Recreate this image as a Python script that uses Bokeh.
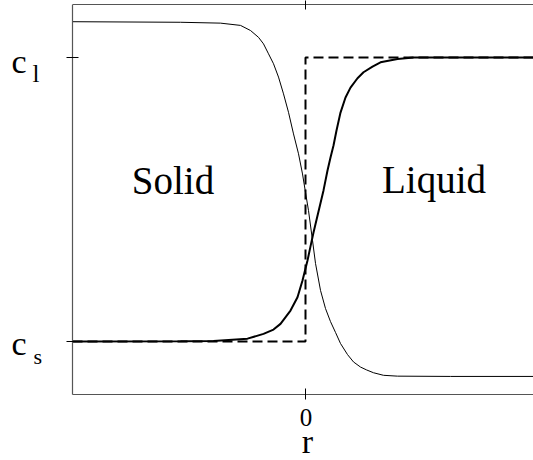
from bokeh.plotting import figure
from bokeh.models import Range1d, LinearAxis, FixedTicker, Label
from bokeh.embed import file_html
from bokeh.resources import INLINE

# ---- data (r in arbitrary units, c normalised: c_s=0, c_l=1)
thin_r = [-4.66, -2.50, -1.70, -1.30, -1.10, -0.94, -0.84, -0.74, -0.64, -0.54,
          -0.44, -0.34, -0.24, -0.14, -0.06, 0.00, 0.06, 0.14, 0.20, 0.30,
          0.40, 0.50, 0.60, 0.70, 0.84, 0.96, 1.10, 1.22, 1.36, 1.56,
          1.84, 2.90, 4.56]
thin_c = [1.126, 1.124, 1.121, 1.113, 1.095, 1.071, 1.048, 1.013, 0.978, 0.931,
          0.872, 0.807, 0.731, 0.661, 0.590, 0.525, 0.461, 0.356, 0.275, 0.180,
          0.116, 0.070, 0.032, -0.007, -0.046, -0.072, -0.090, -0.100, -0.110, -0.119,
          -0.122, -0.123, -0.123]

thick_r = [-4.66, -2.50, -1.84, -1.16, -0.84, -0.64, -0.50, -0.30, -0.16, -0.06,
           0.04, 0.10, 0.16, 0.26, 0.36, 0.44, 0.50, 0.56, 0.62, 0.70,
           0.80, 0.90, 1.04, 1.16, 1.34, 1.50, 1.84, 2.16, 2.90, 4.56]
thick_c = [0.000, 0.001, 0.002, 0.010, 0.027, 0.042, 0.062, 0.109, 0.156, 0.215,
           0.285, 0.335, 0.384, 0.458, 0.532, 0.602, 0.648, 0.690, 0.743, 0.806,
           0.859, 0.894, 0.927, 0.948, 0.968, 0.983, 0.995, 1.000, 1.000, 1.000]

step_r = [-4.66, 0.0, 0.0, 4.56]
step_c = [0.0, 0.0, 1.0, 1.0]

c_s, c_l = 0.0, 1.0
r_min, r_max = -4.66, 4.56
c_min, c_max = -0.1866, 1.1866
region_labels = ["Solid", "Liquid"]
region_r = [-2.65, 2.57]
region_c = [0.568, 0.569]

FONT = "Liberation Serif"
AX = "#555555"

p = figure(width=533, height=460, output_backend="svg", toolbar_location=None,
           x_range=Range1d(-6.1, 4.56), y_range=Range1d(-0.419, 1.1866),
           x_axis_location=None, y_axis_location=None,
           min_border_left=0, min_border_right=0, min_border_top=0,
           min_border_bottom=0)
p.grid.visible = False
p.outline_line_color = None
p.background_fill_color = "white"
p.border_fill_color = "white"

def make_axis(ticks, tin, tout, bounds, loc=None):
    a = LinearAxis(ticker=FixedTicker(ticks=ticks), bounds=bounds)
    if loc is not None:
        a.fixed_location = loc
    a.axis_line_color = AX
    a.axis_line_width = 1.2
    a.major_tick_line_color = "black"
    a.major_tick_line_width = 1
    a.major_tick_in = tin
    a.major_tick_out = tout
    a.minor_tick_line_color = None
    a.major_label_overrides = {t: "" for t in ticks}
    a.major_label_text_font_size = "1px"
    a.major_label_standoff = 0
    return a

p.add_layout(make_axis([c_s, c_l], 6, 6, (c_min, c_max), r_min), "left")
p.add_layout(make_axis([0], 6, 5, (r_min, r_max), c_min), "below")
p.add_layout(make_axis([0], 5, 4, (r_min, r_max)), "above")

p.line(step_r, step_c, line_color="black", line_width=2, line_dash="10 5")
p.line(thin_r, thin_c, line_color="black", line_width=1)
p.line(thick_r, thick_c, line_color="black", line_width=2)

def lab(x, y, t, size, align="left"):
    p.add_layout(Label(x=x, y=y, text=t, text_font=FONT, text_font_size=size,
                       text_align=align, text_baseline="middle",
                       text_color="black"))

for t, x, y in zip(region_labels, region_r, region_c):
    lab(x, y, t, "39px", "center")

lab(-5.88, 0.985, "c", "34px")
lab(-5.46, 0.945, "l", "25px")
lab(-5.88, -0.008, "c", "34px")
lab(-5.44, -0.054, "s", "22px")
lab(0.01, -0.266, "0", "25px", "center")
lab(0.04, -0.352, "r", "34px", "center")

open("out.html", "w").write(file_html(p, INLINE))
